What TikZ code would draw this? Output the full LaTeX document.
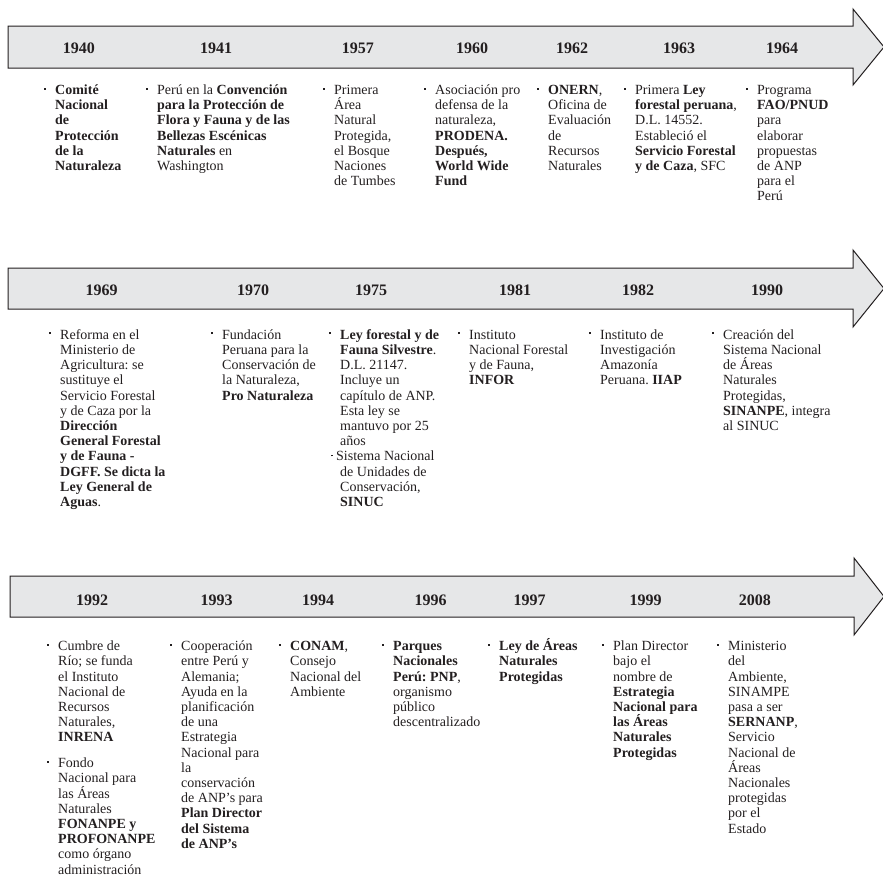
\documentclass[tikz,border=0pt]{standalone}
\usepackage{fontspec}
\setmainfont{Liberation Serif}
\frenchspacing
\definecolor{ink}{HTML}{231F20}
\definecolor{bandgray}{HTML}{E6E7E8}
\newcommand{\bul}{\llap{\raisebox{5pt}{\rule{2pt}{2pt}}\hspace{9.5pt}}\rule{0pt}{13.5pt}}
\newcommand{\bulin}{\kern-9pt\raisebox{4.5pt}{\rule{1.6pt}{1.6pt}}\kern3.4pt}
\begin{document}
\begin{tikzpicture}[x=1pt,y=-1pt,
  band/.style={fill=bandgray,draw=ink,line width=1pt,line join=miter},
  yr/.style={font=\fontsize{16}{18}\selectfont\bfseries,text=ink,anchor=base,inner sep=0pt},
  entry/.style={font=\fontsize{14}{15.2}\selectfont,text=ink,align=left,anchor=north west,inner sep=0pt}]
\useasboundingbox (0,0) rectangle (883,878);
\begin{scope}
\clip (0,0) rectangle (883,878);
\draw[band] (8,26) -- (853,26) -- (853,9) -- (884,47) -- (853,85) -- (853,68) -- (8,68) -- cycle;
\draw[band] (8,268) -- (853,268) -- (853,250) -- (884,288.5) -- (853,327) -- (853,309) -- (8,309) -- cycle;
\draw[band] (10,576) -- (854,576) -- (854,558) -- (884,596.5) -- (854,635) -- (854,617) -- (10,617) -- cycle;
\end{scope}

% Row 1
\node[yr] (y1940) at (78.8,53.3) {1940};
\node[yr] (y1941) at (216,53.3) {1941};
\node[yr] (y1957) at (357.8,53.3) {1957};
\node[yr] (y1960) at (472,53.3) {1960};
\node[yr] (y1962) at (572,53.3) {1962};
\node[yr] (y1963) at (679,53.3) {1963};
\node[yr] (y1964) at (782,53.3) {1964};

\node[entry] (e1940) at (55,80.8) {\bul\textbf{Comité}\\\textbf{Nacional}\\\textbf{de}\\\textbf{Protección}\\\textbf{de la}\\\textbf{Naturaleza}};
\node[entry] (e1941) at (157,80.8) {\bul Perú en la \textbf{Convención}\\\textbf{para la Protección de}\\\textbf{Flora y Fauna y de las}\\\textbf{Bellezas Escénicas}\\\textbf{Naturales} en\\Washington};
\node[entry] (e1957) at (334,80.8) {\bul Primera\\Área\\Natural\\Protegida,\\el Bosque\\Naciones\\de Tumbes};
\node[entry] (e1960) at (435,80.8) {\bul Asociación pro\\defensa de la\\naturaleza,\\\textbf{PRODENA.}\\\textbf{Después,}\\\textbf{World Wide}\\\textbf{Fund}};
\node[entry] (e1962) at (548,80.8) {\bul\textbf{ONERN},\\Oficina de\\Evaluación\\de\\Recursos\\Naturales};
\node[entry] (e1963) at (635,80.8) {\bul Primera \textbf{Ley}\\\textbf{forestal peruana},\\D.L. 14552.\\Estableció el\\\textbf{Servicio Forestal}\\\textbf{y de Caza}, SFC};
\node[entry] (e1964) at (757,80.8) {\bul Programa\\\textbf{FAO/PNUD}\\para\\elaborar\\propuestas\\de ANP\\para el\\Perú};

% Row 2
\node[yr] (y1969) at (101.7,295) {1969};
\node[yr] (y1970) at (253,295) {1970};
\node[yr] (y1975) at (371,295) {1975};
\node[yr] (y1981) at (515,295) {1981};
\node[yr] (y1982) at (638,295) {1982};
\node[yr] (y1990) at (767,295) {1990};

\node[entry] (e1969) at (60,325.5) {\bul Reforma en el\\Ministerio de\\Agricultura: se\\sustituye el\\Servicio Forestal\\y de Caza por la\\\textbf{Dirección}\\\textbf{General Forestal}\\\textbf{y de Fauna -}\\\textbf{DGFF. Se dicta la}\\\textbf{Ley General de}\\\textbf{Aguas}.};
\node[entry] (e1970) at (222,325.5) {\bul Fundación\\Peruana para la\\Conservación de\\la Naturaleza,\\\textbf{Pro Naturaleza}};
\node[entry] (e1975) at (340,325.5) {\bul\textbf{Ley forestal y de}\\\textbf{Fauna Silvestre}.\\D.L. 21147.\\Incluye un\\capítulo de ANP.\\Esta ley se\\mantuvo por 25\\años\\\bulin Sistema Nacional\\de Unidades de\\Conservación,\\\textbf{SINUC}};
\node[entry] (e1981) at (469,325.5) {\bul Instituto\\Nacional Forestal\\y de Fauna,\\\textbf{INFOR}};
\node[entry] (e1982) at (600,325.5) {\bul Instituto de\\Investigación\\Amazonía\\Peruana. \textbf{IIAP}};
\node[entry] (e1990) at (723,325.5) {\bul Creación del\\Sistema Nacional\\de Áreas\\Naturales\\Protegidas,\\\textbf{SINANPE}, integra\\al SINUC};

% Row 3
\node[yr] (y1992) at (92,605.7) {1992};
\node[yr] (y1993) at (216.7,605.7) {1993};
\node[yr] (y1994) at (318,605.7) {1994};
\node[yr] (y1996) at (430.5,605.7) {1996};
\node[yr] (y1997) at (529.7,605.7) {1997};
\node[yr] (y1999) at (645.5,605.7) {1999};
\node[yr] (y2008) at (754.8,605.7) {2008};

\node[entry] (e1992) at (58,637) {\bul Cumbre de\\Río; se funda\\el Instituto\\Nacional de\\Recursos\\Naturales,\\\textbf{INRENA}\\[10.5pt]\bul Fondo\\Nacional para\\las Áreas\\Naturales\\\textbf{FONANPE y}\\\textbf{PROFONANPE}\\como órgano\\administración};
\node[entry] (e1993) at (181,637) {\bul Cooperación\\entre Perú y\\Alemania;\\Ayuda en la\\planificación\\de una\\Estrategia\\Nacional para\\la\\conservación\\de ANP’s para\\\textbf{Plan Director}\\\textbf{del Sistema}\\\textbf{de ANP’s}};
\node[entry] (e1994) at (290,637) {\bul\textbf{CONAM},\\Consejo\\Nacional del\\Ambiente};
\node[entry] (e1996) at (393,637) {\bul\textbf{Parques}\\\textbf{Nacionales}\\\textbf{Perú: PNP},\\organismo\\público\\descentralizado};
\node[entry] (e1997) at (499,637) {\bul\textbf{Ley de Áreas}\\\textbf{Naturales}\\\textbf{Protegidas}};
\node[entry] (e1999) at (613,637) {\bul Plan Director\\bajo el\\nombre de\\\textbf{Estrategia}\\\textbf{Nacional para}\\\textbf{las Áreas}\\\textbf{Naturales}\\\textbf{Protegidas}};
\node[entry] (e2008) at (728,637) {\bul Ministerio\\del\\Ambiente,\\SINAMPE\\pasa a ser\\\textbf{SERNANP},\\Servicio\\Nacional de\\Áreas\\Nacionales\\protegidas\\por el\\Estado};
\end{tikzpicture}
\end{document}
